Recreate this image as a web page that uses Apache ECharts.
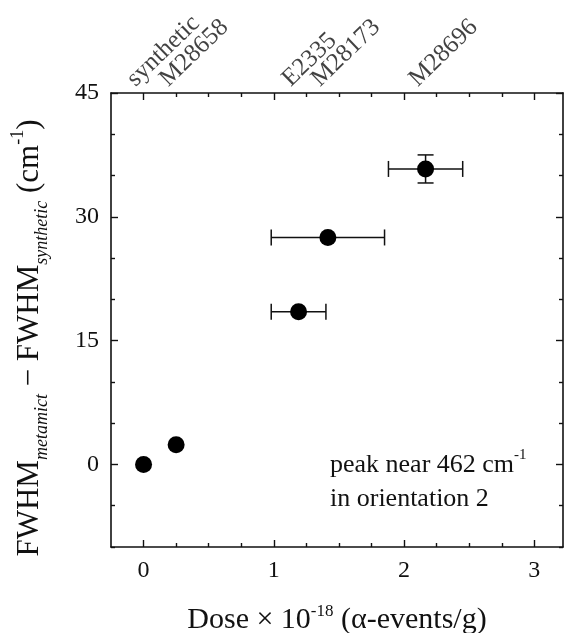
<!DOCTYPE html>
<html>
<head>
<meta charset="utf-8">
<script src="https://cdn.jsdelivr.net/npm/echarts@6/dist/echarts.min.js"></script>
<style>
  html, body { margin: 0; padding: 0; background: #fff; }
  #chart { width: 564px; height: 633px; }
</style>
</head>
<body>
<div id="chart"></div>
<script>
// samples and values
var samples = ['synthetic', 'M28658', 'E2335', 'M28173', 'M28696'];
var dose = [0, 0.25, 1.19, 1.415, 2.165];      // x 10^18 alpha-events/g
var doseErr = [0, 0, 0.21, 0.435, 0.285];
var fwhm = [0, 2.4, 18.5, 27.5, 35.8];          // cm^-1
var fwhmErr = [0, 0, 0, 0, 1.7];

// tick positions
var xMajor = [0, 1, 2, 3];
var xMinor = [0.25, 0.5, 0.75, 1.25, 1.5, 1.75, 2.25, 2.5, 2.75];
var yMajor = [0, 15, 30, 45];
var yMinor = [-10, -5, 5, 10, 20, 25, 35, 40];
var yTop = 45;

var FONT = "'Liberation Serif', 'DejaVu Serif', serif";
var black = '#111';

var chart = echarts.init(document.getElementById('chart'));

function xAxisOf(pos, ticks, len, withLine) {
  return {
    type: 'value', position: pos, min: -0.25, max: 3.22,
    axisLine: { show: withLine, onZero: false, lineStyle: { color: black, width: 1.6 } },
    axisTick: { show: true, inside: true, length: len, customValues: ticks,
      lineStyle: { color: black, width: 1.4 } },
    axisLabel: { show: false },
    splitLine: { show: false }
  };
}
function yAxisOf(pos, ticks, len, withLine) {
  return {
    type: 'value', position: pos, min: -10, max: yTop,
    axisLine: { show: withLine, onZero: false, lineStyle: { color: black, width: 1.6 } },
    axisTick: { show: true, inside: true, length: len, customValues: ticks,
      lineStyle: { color: black, width: 1.4 } },
    axisLabel: { show: false },
    splitLine: { show: false }
  };
}

var xBottom = xAxisOf('bottom', xMajor, 7, true);
xBottom.axisLabel = {
  show: true, customValues: xMajor, margin: 12,
  fontFamily: FONT, fontSize: 24, color: black
};
xBottom.name = 'Dose × 10{sup|-18} (α-events/g)';
xBottom.nameLocation = 'middle';
xBottom.nameGap = 56;
xBottom.nameTextStyle = {
  fontFamily: FONT, fontSize: 30, color: black, lineHeight: 34,
  rich: { sup: { fontFamily: FONT, fontSize: 17, color: black, verticalAlign: 'top', lineHeight: 34 } }
};

var yLeft = yAxisOf('left', yMajor, 7, true);
yLeft.axisLabel = {
  show: true, customValues: yMajor, margin: 12,
  fontFamily: FONT, fontSize: 24, color: black
};
yLeft.name = 'FWHM{sub|metamict} − FWHM{sub|synthetic} (cm{sup|-1})';
yLeft.nameLocation = 'middle';
yLeft.nameRotate = 90;
yLeft.nameGap = 60;
yLeft.nameTextStyle = {
  fontFamily: FONT, fontSize: 31, color: black, lineHeight: 42,
  padding: [0, 36, 0, 0],
  rich: {
    sub: { fontFamily: FONT, fontStyle: 'italic', fontSize: 18, color: black, verticalAlign: 'bottom', lineHeight: 42 },
    sup: { fontFamily: FONT, fontSize: 18, color: black, verticalAlign: 'top', lineHeight: 42 }
  }
};

var option = {
  backgroundColor: '#fff',
  animation: false,
  grid: { left: 111, top: 93, right: 1, bottom: 86, outerBoundsMode: 'none' },
  xAxis: [
    xBottom,
    xAxisOf('bottom', xMinor, 4, false),
    xAxisOf('top', xMajor, 7, true),
    xAxisOf('top', xMinor, 4, false)
  ],
  yAxis: [
    yLeft,
    yAxisOf('left', yMinor, 4, false),
    yAxisOf('right', yMajor, 7, true),
    yAxisOf('right', yMinor, 4, false)
  ],
  graphic: [{
    type: 'text', left: 330, top: 448,
    style: {
      text: 'peak near 462 cm{sup|-1}\nin orientation 2',
      fontFamily: FONT, fontSize: 26, fill: black, lineHeight: 34,
      rich: { sup: { fontFamily: FONT, fontSize: 15, fill: black, verticalAlign: 'top', lineHeight: 34 } }
    }
  }],
  series: [
    {
      type: 'custom',
      xAxisIndex: 0, yAxisIndex: 0,
      z: 2,
      data: dose.map(function (d, i) { return [d, fwhm[i], doseErr[i], fwhmErr[i]]; }),
      renderItem: function (params, api) {
        var x = api.value(0), y = api.value(1), dx = api.value(2), dy = api.value(3);
        var st = { stroke: black, lineWidth: 1.5 };
        var cap = 8;
        var kids = [];
        if (dx > 0) {
          var l = api.coord([x - dx, y]), r = api.coord([x + dx, y]);
          kids.push({ type: 'line', shape: { x1: l[0], y1: l[1], x2: r[0], y2: r[1] }, style: st });
          kids.push({ type: 'line', shape: { x1: l[0], y1: l[1] - cap, x2: l[0], y2: l[1] + cap }, style: st });
          kids.push({ type: 'line', shape: { x1: r[0], y1: r[1] - cap, x2: r[0], y2: r[1] + cap }, style: st });
        }
        if (dy > 0) {
          var t = api.coord([x, y + dy]), b = api.coord([x, y - dy]);
          kids.push({ type: 'line', shape: { x1: t[0], y1: t[1], x2: b[0], y2: b[1] }, style: st });
          kids.push({ type: 'line', shape: { x1: t[0] - cap, y1: t[1], x2: t[0] + cap, y2: t[1] }, style: st });
          kids.push({ type: 'line', shape: { x1: b[0] - cap, y1: b[1], x2: b[0] + cap, y2: b[1] }, style: st });
        }
        return { type: 'group', children: kids };
      }
    },
    {
      type: 'scatter',
      xAxisIndex: 0, yAxisIndex: 0,
      z: 3,
      symbol: 'circle',
      symbolSize: 17,
      itemStyle: { color: '#000', opacity: 1 },
      data: dose.map(function (d, i) { return [d, fwhm[i]]; })
    },
    {
      // sample names along the top edge
      type: 'scatter',
      xAxisIndex: 0, yAxisIndex: 0,
      clip: false, silent: true,
      symbolSize: 1,
      itemStyle: { color: 'rgba(0,0,0,0)' },
      label: {
        show: true,
        position: [-12, -10],
        align: 'left', verticalAlign: 'middle',
        rotate: 44,
        fontFamily: FONT, fontSize: 25, color: black,
        formatter: function (p) { return samples[p.dataIndex]; }
      },
      data: dose.map(function (d) { return [d, yTop]; })
    }
  ]
};

chart.setOption(option);
</script>
</body>
</html>
